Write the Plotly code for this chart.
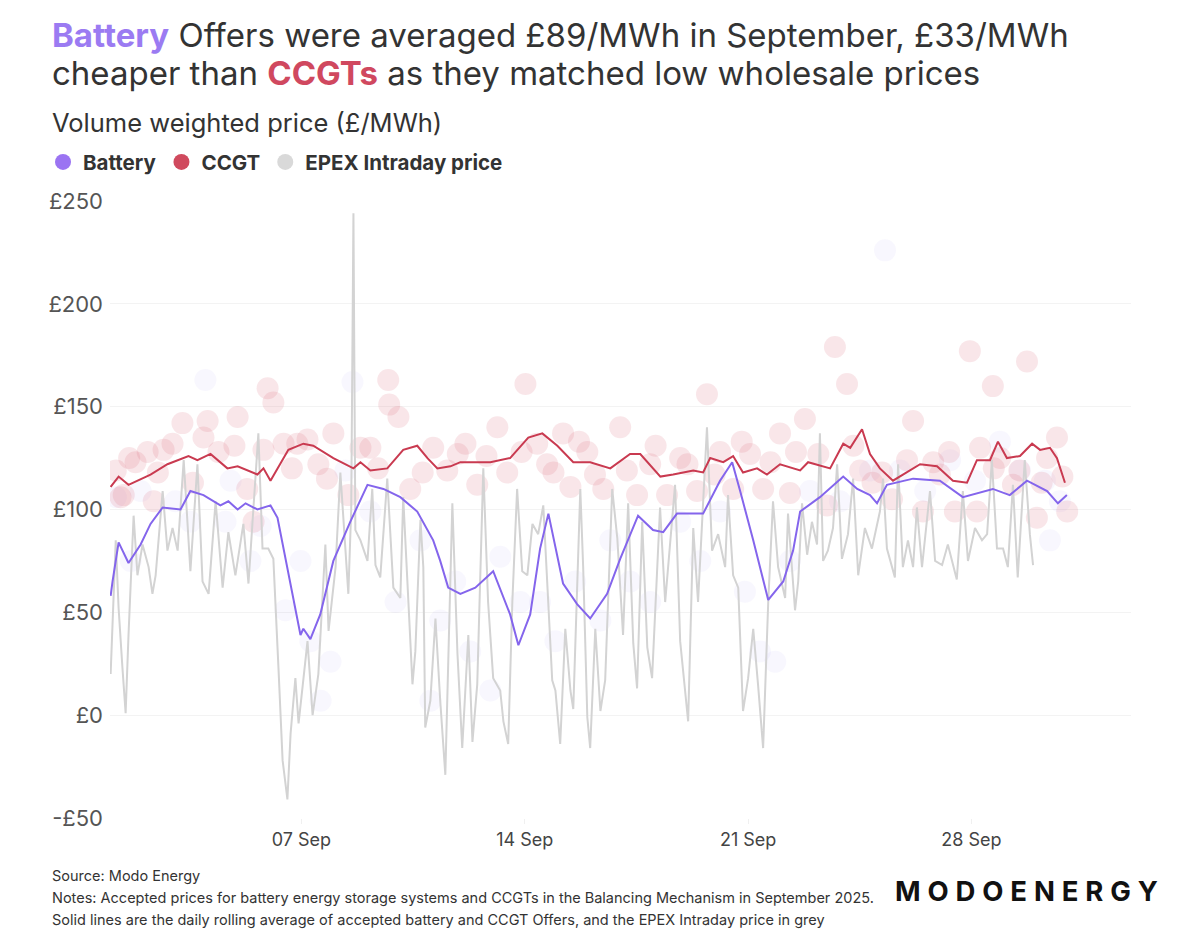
import pandas as pd
import plotly.graph_objects as go

# day offsets from 1 Sep 2025 00:00, prices in £/MWh
battery_days = [0.02, 0.08, 0.27, 0.58, 0.96, 1.27, 1.65, 2.21, 2.52, 2.93,
                3.46, 3.71, 4.0, 4.25, 4.62, 5.03, 5.25, 5.66, 5.97, 6.06,
                6.28, 6.59, 7.0, 7.53, 8.07, 8.57, 9.1, 9.63, 10.13, 10.35,
                10.6, 10.98, 11.45, 12.01, 12.54, 12.8, 13.17, 13.48, 13.74, 14.2,
                14.64, 15.05, 15.58, 15.99, 16.55, 17.02, 17.34, 17.77, 18.59, 19.12,
                19.5, 19.75, 20.16, 20.63, 21.1, 21.41, 21.63, 22.25, 22.98, 23.42,
                23.82, 24.04, 24.35, 25.17, 26.01, 26.73, 27.67, 28.2, 28.74, 29.37,
                29.71, 29.99]
battery_price = [58, 65, 84, 74, 83, 93, 101, 100, 109, 107,
                 102, 104, 100, 103, 100, 102, 96, 64, 39, 42,
                 37, 49, 75, 94, 112, 110, 106, 99, 85, 75,
                 62, 59, 62, 70, 49, 34, 49, 81, 98, 64,
                 54, 47, 59, 76, 97, 90, 89, 98, 98, 114,
                 123, 109, 85, 56, 65, 80, 99, 106, 116, 110,
                 107, 103, 112, 115, 114, 106, 110, 107, 114, 109,
                 103, 107]

ccgt_days = [0.02, 0.27, 0.58, 1.27, 1.8, 2.46, 2.74, 3.15, 3.68, 4.0,
             4.62, 4.81, 5.03, 5.59, 6.06, 6.37, 7.0, 7.63, 7.85, 8.16,
             8.69, 9.19, 9.63, 9.95, 10.26, 10.67, 10.98, 11.92, 12.54, 13.11,
             13.55, 14.02, 14.52, 15.05, 15.68, 16.3, 16.62, 17.25, 17.65, 18.28,
             18.59, 18.81, 19.22, 19.53, 19.84, 20.28, 20.59, 21.0, 21.63, 21.88,
             22.57, 22.98, 23.2, 23.57, 23.82, 24.13, 24.54, 25.39, 25.92, 26.42,
             26.86, 27.17, 27.58, 27.83, 28.11, 28.52, 28.9, 29.15, 29.46, 29.68,
             29.93]
ccgt_price = [111, 116, 112, 117, 122, 126, 124, 127, 120, 121,
              117, 120, 114, 129, 132, 131, 125, 120, 123, 119,
              120, 129, 131, 125, 120, 121, 123, 123, 125, 135,
              137, 131, 123, 123, 120, 127, 127, 116, 117, 119,
              118, 125, 123, 126, 118, 120, 117, 122, 119, 123,
              120, 132, 130, 139, 127, 120, 114, 122, 121, 114,
              113, 124, 124, 133, 125, 126, 132, 129, 130, 125,
              113]

epex_days = [0.0, 0.02, 0.18, 0.27, 0.39, 0.49, 0.58, 0.74, 0.86, 1.02,
             1.21, 1.33, 1.43, 1.65, 1.8, 1.96, 2.12, 2.31, 2.52, 2.74,
             2.9, 3.09, 3.31, 3.53, 3.71, 3.93, 4.18, 4.34, 4.65, 4.78,
             4.96, 5.12, 5.28, 5.41, 5.56, 5.66, 5.81, 5.91, 6.03, 6.19,
             6.35, 6.53, 6.75, 6.85, 7.07, 7.22, 7.47, 7.56, 7.63, 7.69,
             7.85, 8.07, 8.22, 8.32, 8.47, 8.69, 8.88, 9.1, 9.19, 9.32,
             9.48, 9.57, 9.73, 9.82, 9.88, 10.04, 10.2, 10.35, 10.51, 10.73,
             10.89, 11.04, 11.23, 11.36, 11.51, 11.7, 11.85, 12.01, 12.23, 12.33,
             12.48, 12.61, 12.76, 12.92, 13.08, 13.24, 13.42, 13.58, 13.86, 13.96,
             14.11, 14.27, 14.43, 14.52, 14.74, 14.83, 14.96, 15.05, 15.21, 15.37,
             15.52, 15.74, 15.9, 16.08, 16.24, 16.4, 16.52, 16.68, 16.84, 16.99,
             17.24, 17.4, 17.71, 17.87, 18.12, 18.28, 18.43, 18.71, 18.87, 19.06,
             19.28, 19.37, 19.53, 19.69, 19.84, 20.0, 20.16, 20.31, 20.47, 20.63,
             20.78, 20.94, 21.16, 21.25, 21.47, 21.57, 21.69, 21.85, 22.0, 22.16,
             22.25, 22.35, 22.5, 22.66, 22.79, 22.94, 23.13, 23.29, 23.45, 23.66,
             23.88, 24.13, 24.23, 24.35, 24.6, 24.7, 24.85, 25.01, 25.17, 25.29,
             25.45, 25.7, 25.86, 26.08, 26.26, 26.54, 26.73, 26.89, 27.11, 27.33,
             27.49, 27.64, 27.8, 27.99, 28.14, 28.3, 28.45, 28.67, 28.83, 28.93]
epex_price = [24, 20, 85, 52, 23, 1, 39, 97, 68, 83,
              72, 59, 68, 109, 80, 91, 80, 124, 70, 122,
              65, 59, 104, 62, 89, 68, 93, 64, 137, 81,
              81, 76, 23, -22, -41, -9, 18, -4, 13, 36,
              0, 20, 83, 41, 72, 118, 59, 100, 244, 90,
              85, 75, 110, 73, 67, 115, 62, 57, 106, 62,
              15, 31, 95, 72, -6, 7, 47, 7, -29, 103,
              30, -16, 39, -13, 15, 120, 55, 18, 12, -3,
              -14, 55, 110, 70, 68, 93, 88, 102, 17, 12,
              -14, 42, 12, 3, 110, 72, -1, -16, 42, 2,
              17, 110, 86, 39, 103, 35, 13, 94, 33, 18,
              101, 55, 112, 36, -3, 91, 55, 140, 80, 88,
              72, 107, 68, 62, 2, 18, 42, 15, -16, 55,
              104, 72, 57, 98, 51, 65, 103, 78, 94, 83,
              137, 75, 80, 91, 122, 76, 88, 115, 68, 91,
              81, 99, 115, 81, 67, 122, 72, 85, 72, 101,
              72, 109, 75, 73, 83, 66, 109, 75, 91, 85,
              88, 124, 81, 81, 72, 112, 67, 124, 88, 73]

# individual accepted offers (faded dots)
ccgt_offer_days = [0.18, 0.33, 0.43, 0.8, 1.18, 1.37, 1.68, 1.96, 2.27, 2.93,
                   3.06, 4.0, 4.5, 4.81, 4.94, 5.12, 5.44, 5.87, 6.19, 6.53,
                   7.0, 7.47, 7.85, 8.16, 8.72, 8.75, 9.04, 9.41, 10.13, 10.57,
                   11.14, 11.51, 12.14, 12.45, 13.02, 13.39, 13.7, 14.2, 14.43, 14.96,
                   15.46, 15.99, 16.52, 16.93, 17.46, 17.87, 18.4, 18.71, 19.12, 19.53,
                   20.06, 20.47, 21.0, 21.31, 21.78, 22.47, 22.72, 23.1, 23.51, 24.51,
                   24.98, 25.17, 25.48, 26.01, 26.48, 26.95, 27.17, 27.27, 27.67, 27.7,
                   28.3, 28.74, 29.05, 29.37, 29.68, 30.0,
                   0.6, 1.5, 2.6, 3.4, 3.9, 4.3, 5.7, 6.8, 8.4, 9.8,
                   10.9, 11.8, 12.9, 13.9, 14.7, 15.2, 16.2, 17.1, 18.1, 18.95,
                   19.8, 20.7, 21.5, 22.2, 23.3, 23.9, 24.2, 25.8, 26.3, 27.9,
                   28.5, 29.2, 29.85]
ccgt_offer_price = [119, 106, 107, 123, 128, 104, 129, 132, 142, 135,
                    143, 145, 94, 129, 159, 152, 132, 132, 134, 122,
                    137, 107, 130, 130, 163, 151, 145, 110, 130, 119,
                    132, 112, 140, 118, 161, 132, 122, 137, 111, 128,
                    110, 140, 107, 122, 107, 125, 109, 156, 128, 110,
                    127, 110, 137, 108, 144, 102, 179, 161, 119, 105,
                    124, 143, 99, 117, 99, 177, 99, 130, 160, 120,
                    112, 172, 96, 125, 135, 99,
                    125, 118, 113, 128, 131, 110, 120, 115, 120, 118,
                    127, 126, 128, 118, 133, 117, 119, 131, 122, 117,
                    133, 123, 128, 127, 131, 113, 118, 123, 128, 125,
                    119, 113, 116]

battery_offer_days = [0.18, 0.65, 0.96, 2.05, 2.52, 2.99, 3.62, 3.78, 4.4, 4.72,
                      5.5, 5.97, 6.28, 6.6, 6.91, 7.38, 7.6, 8.16, 8.95, 9.73,
                      10.04, 10.35, 10.82, 11.29, 11.92, 12.23, 12.86, 13.48, 13.96, 14.58,
                      15.37, 15.68, 16.3, 16.93, 17.87, 18.5, 19.12, 19.9, 20.37, 20.85,
                      21.31, 21.94, 22.88, 23.82, 24.29, 24.76, 25.55, 26.33, 27.11, 27.89,
                      28.52, 29.3, 29.46, 29.77]
battery_offer_price = [106, 75, 109, 104, 94, 163, 94, 114, 75, 92,
                       51, 75, 36, 7, 26, 119, 162, 99, 55, 85,
                       7, 46, 65, 31, 12, 77, 55, 55, 36, 65,
                       46, 85, 65, 55, 94, 75, 99, 60, 31, 26,
                       75, 109, 104, 119, 226, 119, 109, 124, 114, 133,
                       119, 114, 85, 104]

y_ticks = [-50, 0, 50, 100, 150, 200, 250]
y_labels = ["-£50", "£0", "£50", "£100", "£150", "£200", "£250"]
x_ticks = ["2025-09-07", "2025-09-14", "2025-09-21", "2025-09-28"]

START = pd.Timestamp("2025-09-01")


def to_time(days):
    return START + pd.to_timedelta(days, unit="D")


PURPLE = "#8465EC"
RED = "#C93A50"
GREY = "#D3D3D3"
FONT = "Inter"
TEXT = "#333333"

fig = go.Figure()

fig.add_trace(go.Scatter(x=to_time(battery_offer_days), y=battery_offer_price, mode="markers",
                         marker=dict(size=22, color="#8C78F0", opacity=0.06, line=dict(width=0)),
                         showlegend=False, hoverinfo="skip"))
fig.add_trace(go.Scatter(x=to_time(ccgt_offer_days), y=ccgt_offer_price, mode="markers",
                         marker=dict(size=22, color="#DC6478", opacity=0.16, line=dict(width=0)),
                         showlegend=False, hoverinfo="skip"))
fig.add_trace(go.Scatter(x=to_time(epex_days), y=epex_price, mode="lines",
                         line=dict(color=GREY, width=2), showlegend=False))
fig.add_trace(go.Scatter(x=to_time(ccgt_days), y=ccgt_price, mode="lines",
                         line=dict(color=RED, width=2), showlegend=False))
fig.add_trace(go.Scatter(x=to_time(battery_days), y=battery_price, mode="lines",
                         line=dict(color=PURPLE, width=2), showlegend=False))

# legend entries (big round swatches)
for name, col in [("Battery", "#9B74F2"), ("CCGT", "#D04A5E"), ("EPEX Intraday price", "#D9D9D9")]:
    fig.add_trace(go.Scatter(x=[None], y=[None], mode="markers", name=name,
                             marker=dict(size=22, color=col)))

fig.update_layout(
    width=1200, height=951,
    paper_bgcolor="white", plot_bgcolor="white",
    margin=dict(l=102, r=77, t=193, b=141),
    font=dict(family=FONT, color=TEXT),
    legend=dict(orientation="h", x=-0.0656, xanchor="left", y=1.063, yanchor="middle",
                font=dict(size=20.5, color=TEXT, family=FONT, weight="bold"),
                itemsizing="trace", itemwidth=30, tracegroupgap=0,
                bgcolor="rgba(0,0,0,0)"),
    showlegend=True,
)

fig.update_xaxes(range=["2025-09-01", "2025-10-03"], tickvals=x_ticks, tickformat="%d %b",
                 showgrid=False, zeroline=False, showline=False,
                 ticks="outside", ticklen=5, tickcolor="#F0F0F0",
                 tickfont=dict(size=18, color="#444444", family=FONT))
fig.update_yaxes(range=[-50, 250], tickvals=y_ticks, ticktext=y_labels,
                 showgrid=True, gridcolor="#F3F3F3", gridwidth=1, zeroline=False, showline=False,
                 ticklabelstandoff=6,
                 tickfont=dict(size=22, color="#555555", family=FONT))

title_lines = [
    "<span style='color:#9B7BF2'><b>Battery</b></span> Offers were averaged £89/MWh in September, £33/MWh",
    "cheaper than <span style='color:#D0485F'><b>CCGTs</b></span> as they matched low wholesale prices",
]
for i, line in enumerate(title_lines):
    fig.add_annotation(text=line, xref="paper", yref="paper",
                       x=-0.0588, y=1.269 - i * 0.0616, xanchor="left", yanchor="middle",
                       showarrow=False, font=dict(size=33, color=TEXT, family=FONT))

fig.add_annotation(text="Volume weighted price (£/MWh)", xref="paper", yref="paper",
                   x=-0.0588, y=1.128, xanchor="left", yanchor="middle", showarrow=False,
                   font=dict(size=25.5, color=TEXT, family=FONT))

notes = [
    "Source: Modo Energy",
    "Notes: Accepted prices for battery energy storage systems and CCGTs in the Balancing Mechanism in September 2025.",
    "Solid lines are the daily rolling average of accepted battery and CCGT Offers, and the EPEX Intraday price in grey",
]
for i, line in enumerate(notes):
    fig.add_annotation(text=line, xref="paper", yref="paper",
                       x=-0.0588, y=-0.094 - i * 0.0356, xanchor="left", yanchor="middle",
                       showarrow=False, font=dict(size=14.5, color=TEXT, family=FONT))

fig.add_annotation(text="<b>" + "\u2005".join("MODOENERGY") + "</b>", xref="paper", yref="paper",
                   x=1.028, y=-0.118, xanchor="right", yanchor="middle", showarrow=False,
                   font=dict(size=27.5, color="#111111", family=FONT))

fig.write_html("out.html")
